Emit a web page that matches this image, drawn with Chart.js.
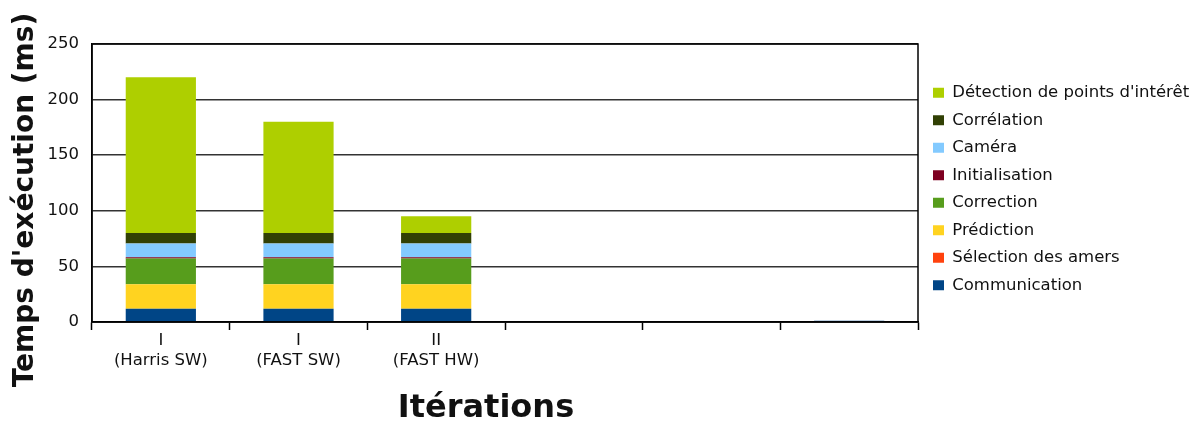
<!DOCTYPE html>
<html lang="fr">
<head>
  <meta charset="UTF-8">
  <title>Temps d'exécution par itération</title>
  <script src="https://cdn.jsdelivr.net/npm/chart.js"></script>
  <style>
    body { margin: 0; background: #fff; }
    #wrap { width: 1192px; height: 421px; }
  </style>
</head>
<body>
<div id="wrap"><canvas id="chart" width="1192" height="421"></canvas></div>
<script>
  // categories (x axis), one entry per bar slot
  const iterations = [['I', '(Harris SW)'], ['I', '(FAST SW)'], ['II', '(FAST HW)'], '', '', ''];

  // series values in ms, stacked from bottom to top
  const communication  = [12, 12, 12, null, null, 1.2];
  const selectionAmers = [0, 0, 0, null, null, 0];
  const prediction     = [22, 22, 22, null, null, 0];
  const correction     = [23, 23, 23, null, null, 0];
  const initialisation = [1.2, 1.2, 1.2, null, null, 0];
  const camera         = [12.3, 12.3, 12.3, null, null, 0];
  const correlation    = [9.5, 9.5, 9.5, null, null, 0];
  const detection      = [140, 100, 15, null, null, 0];

  const yTicks = [0, 50, 100, 150, 200, 250];

  const xTitle = 'Itérations';
  const yTitle = "Temps d'exécution (ms)";

  const series = [
    { label: 'Communication', data: communication, color: '#004586' },
    { label: 'Sélection des amers', data: selectionAmers, color: '#ff420e' },
    { label: 'Prédiction', data: prediction, color: '#ffd320' },
    { label: 'Correction', data: correction, color: '#579d1c' },
    { label: 'Initialisation', data: initialisation, color: '#7e0021' },
    { label: 'Caméra', data: camera, color: '#83caff' },
    { label: 'Corrélation', data: correlation, color: '#314004' },
    { label: "Détection de points d'intérêt", data: detection, color: '#aecf00' }
  ];

  // black frame around the plot area
  const frame = {
    id: 'frame',
    afterDatasetsDraw(chart) {
      const a = chart.chartArea, ctx = chart.ctx;
      ctx.save();
      ctx.strokeStyle = '#000';
      ctx.lineWidth = 1.5;
      ctx.strokeRect(a.left, a.top, a.right - a.left, a.bottom - a.top);
      ctx.restore();
    }
  };

  // axis titles, placed where the original puts them (not centred on the plot)
  const axisTitles = {
    id: 'axisTitles',
    afterDraw(chart) {
      const ctx = chart.ctx;
      ctx.save();
      ctx.fillStyle = '#111';
      ctx.textAlign = 'center';
      ctx.textBaseline = 'alphabetic';
      ctx.font = "bold 32px 'DejaVu Sans', sans-serif";
      ctx.fillText(xTitle, 486, 417);
      ctx.translate(33, 200);
      ctx.rotate(-Math.PI / 2);
      ctx.font = "bold 28px 'DejaVu Sans', sans-serif";
      ctx.fillText(yTitle, 0, 0);
      ctx.restore();
    }
  };

  // fixed legend width, and legend block centred on the plot instead of the canvas
  const legendPlace = {
    id: 'legendPlace',
    beforeUpdate(chart) {
      const lg = chart.legend;
      if (lg && !lg._patched) {
        const fit = lg.fit;
        lg.fit = function () { fit.call(this); this.width = 274; };
        lg._patched = true;
      }
    },
    afterUpdate(chart) {
      const lg = chart.legend, a = chart.chartArea;
      lg.top = a.top + 5;
      lg.bottom = a.bottom + 7;
      lg.left += 4;
      lg.right += 4;
    }
  };

  Chart.defaults.font.family = "'DejaVu Sans', sans-serif";
  Chart.defaults.color = '#111';

  new Chart(document.getElementById('chart'), {
    type: 'bar',
    data: {
      labels: iterations,
      datasets: series.map(s => ({
        label: s.label,
        data: s.data,
        backgroundColor: s.color,
        borderWidth: 0,
        barPercentage: 0.51,
        categoryPercentage: 1
      }))
    },
    options: {
      responsive: false,
      animation: false,
      layout: { padding: { top: 44, left: 0, bottom: 0 } },
      plugins: {
        tooltip: { enabled: false },
        legend: {
          position: 'right',
          reverse: true,
          labels: {
            boxWidth: 11,
            boxHeight: 10,
            padding: 11,
            font: { size: 16.5 },
            color: '#111'
          }
        }
      },
      scales: {
        x: {
          stacked: true,
          afterFit(axis) { axis.height = 99; },
          grid: { offset: true, drawOnChartArea: false, color: '#000', tickLength: 8, tickWidth: 1.5 },
          border: { color: '#000', width: 1.5 },
          ticks: { font: { size: 16.5 }, color: '#111', padding: 1 }
        },
        y: {
          stacked: true,
          min: 0,
          max: 250,
          afterBuildTicks(axis) { axis.ticks = yTicks.map(v => ({ value: v })); },
          afterFit(axis) { axis.width = 92; },
          grid: { color: '#333', lineWidth: 1.5, drawTicks: false },
          border: { color: '#000', width: 1.5 },
          ticks: { font: { size: 16.5 }, color: '#111', padding: 13 }
        }
      }
    },
    plugins: [frame, legendPlace, axisTitles]
  });
</script>
</body>
</html>
